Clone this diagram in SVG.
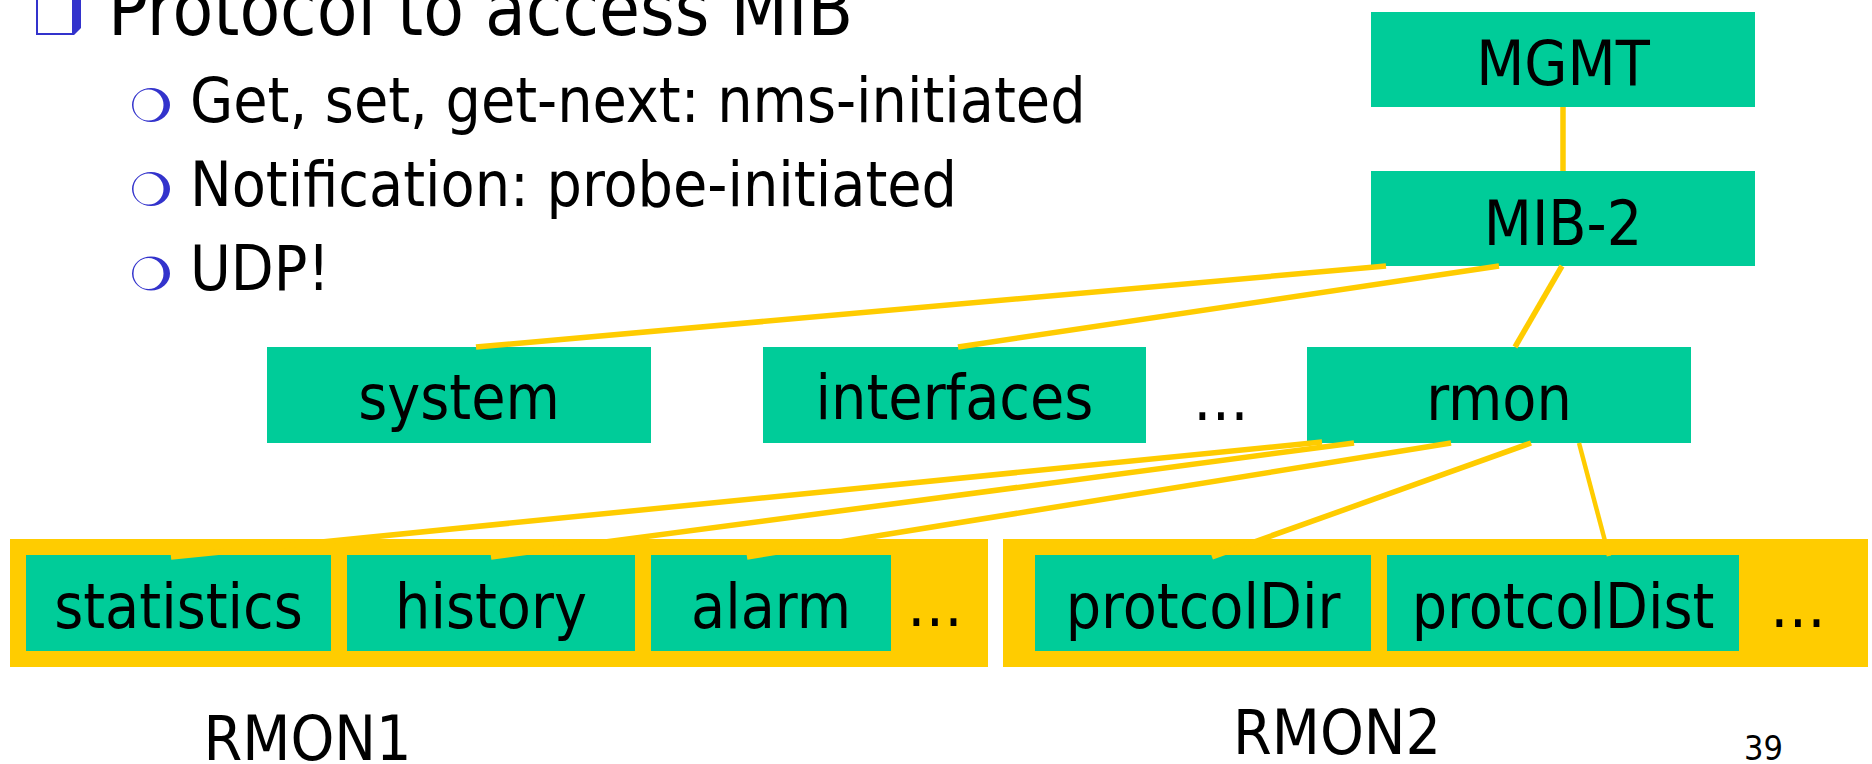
<svg xmlns="http://www.w3.org/2000/svg" width="1872" height="764" viewBox="0 0 1872 764">
<style>
  .bg { fill: #ffffff; }
  .node { fill: #00CC99; }
  .group { fill: #FFCC00; }
  .conn { stroke: #FFCC00; stroke-width: 5.5; fill: none; stroke-linecap: butt; }
  .t { font-family: "DejaVu Sans Condensed", "DejaVu Sans", sans-serif; font-stretch: condensed; fill: #000000; }
  .lbl { font-size: 62px; text-anchor: middle; }
  .body { font-size: 62px; }
  .title { font-size: 74px; }
  .bullet { fill: #3333CC; }
</style>
<rect class="bg" x="0" y="0" width="1872" height="764"/>

<g id="bullets">
  <path class="bullet" d="M36,-4 H73 V-4 H81 V28 L74 35 H36 Z M38,-4 V33 H72 V-4 Z" fill-rule="evenodd"/>
  <g id="circle-bullets">
    <path class="bullet" fill-rule="evenodd" d="M132,105 a19,17 0 1,0 38,0 a19,17 0 1,0 -38,0 Z M133.5,105 a15,15.5 0 1,0 30,0 a15,15.5 0 1,0 -30,0 Z"/>
    <path class="bullet" fill-rule="evenodd" d="M132,189 a19,17 0 1,0 38,0 a19,17 0 1,0 -38,0 Z M133.5,189 a15,15.5 0 1,0 30,0 a15,15.5 0 1,0 -30,0 Z"/>
    <path class="bullet" fill-rule="evenodd" d="M132,273.5 a19,17 0 1,0 38,0 a19,17 0 1,0 -38,0 Z M133.5,273.5 a15,15.5 0 1,0 30,0 a15,15.5 0 1,0 -30,0 Z"/>
  </g>
</g>

<g id="text-block">
  <text class="t title" x="108" y="35">Protocol to access MIB</text>
  <text class="t body" x="190" y="122">Get, set, get-next: nms-initiated</text>
  <text class="t body" x="190" y="206">Notification: probe-initiated</text>
  <text class="t body" x="190" y="290">UDP!</text>
</g>

<g id="RMON1">
  <rect class="group" x="10" y="539" width="978" height="128"/>
  <text class="t lbl" x="935" y="626">…</text>
</g>
<g id="RMON2">
  <rect class="group" x="1003" y="539" width="865" height="128"/>
  <text class="t lbl" x="1798" y="627">…</text>
</g>

<g id="MGMT">
  <rect class="node" x="1371" y="12" width="384" height="95"/>
  <text class="t lbl" x="1563" y="85">MGMT</text>
</g>
<g id="MIB-2">
  <rect class="node" x="1371" y="171" width="384" height="95"/>
  <text class="t lbl" x="1563" y="245">MIB-2</text>
</g>
<g id="system">
  <rect class="node" x="267" y="347" width="384" height="96"/>
  <text class="t lbl" x="459" y="419">system</text>
</g>
<g id="interfaces">
  <rect class="node" x="763" y="347" width="383" height="96"/>
  <text class="t lbl" x="954.5" y="419">interfaces</text>
</g>
<g id="ellipsis-mid">
  <text class="t lbl" x="1221" y="420">…</text>
</g>
<g id="rmon">
  <rect class="node" x="1307" y="347" width="384" height="96"/>
  <text class="t lbl" x="1499" y="420">rmon</text>
</g>
<g id="statistics">
  <rect class="node" x="26" y="555" width="305" height="96"/>
  <text class="t lbl" x="178.5" y="628">statistics</text>
</g>
<g id="history">
  <rect class="node" x="347" y="555" width="288" height="96"/>
  <text class="t lbl" x="491" y="628">history</text>
</g>
<g id="alarm">
  <rect class="node" x="651" y="555" width="240" height="96"/>
  <text class="t lbl" x="771" y="628">alarm</text>
</g>
<g id="protcolDir">
  <rect class="node" x="1035" y="555" width="336" height="96"/>
  <text class="t lbl" x="1203" y="628">protcolDir</text>
</g>
<g id="protcolDist">
  <rect class="node" x="1387" y="555" width="352" height="96"/>
  <text class="t lbl" x="1563" y="628">protcolDist</text>
</g>

<g id="connectors">
  <line class="conn" x1="1563" y1="107" x2="1563" y2="171"/>
  <line class="conn" x1="1386" y1="266" x2="476" y2="347"/>
  <line class="conn" x1="1499" y1="266" x2="958" y2="347"/>
  <line class="conn" x1="1562" y1="266" x2="1515" y2="347"/>
  <line class="conn" x1="1322" y1="442" x2="171" y2="557"/>
  <line class="conn" x1="1354" y1="443" x2="491" y2="557"/>
  <line class="conn" x1="1451" y1="443" x2="747" y2="557"/>
  <line class="conn" x1="1531" y1="443" x2="1212" y2="557"/>
  <line class="conn" x1="1579" y1="443" x2="1609" y2="556" style="stroke-width:4.5"/>
</g>

<g id="labels">
  <text class="t lbl" x="307.5" y="760">RMON1</text>
  <text class="t lbl" x="1337" y="754">RMON2</text>
  <text class="t" x="1763.5" y="760" style="font-size:34px;text-anchor:middle">39</text>
</g>
</svg>
